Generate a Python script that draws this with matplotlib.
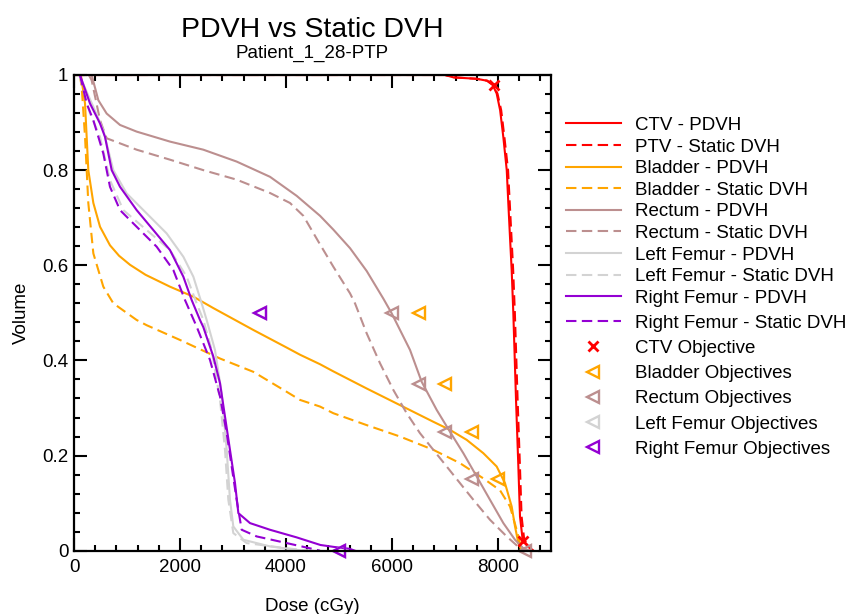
import matplotlib
matplotlib.use('Agg')
import matplotlib.pyplot as plt
from matplotlib.ticker import MultipleLocator, FuncFormatter

plt.rcParams['font.family'] = ['Liberation Sans', 'DejaVu Sans']

# ---------------- data (dose in cGy, fractional volume) ----------------
ctv_pdvh_dose = [0, 7000, 7160, 7600, 7790, 7900, 7975, 8040, 8100, 8165, 8195, 8226,
                 8258, 8289, 8340, 8384, 8415, 8465, 8600, 8660]
ctv_pdvh_vol = [1.0, 1.0, 0.995, 0.992, 0.988, 0.979, 0.961, 0.926, 0.870, 0.800, 0.730,
                0.660, 0.590, 0.500, 0.317, 0.177, 0.072, 0.023, 0.005, 0.0]

ptv_static_dose = [0, 7000, 7170, 7600, 7800, 7910, 7990, 8060, 8120, 8190, 8222, 8254,
                   8286, 8318, 8370, 8414, 8445, 8495, 8610, 8670]
ptv_static_vol = [1.0, 1.0, 0.995, 0.992, 0.988, 0.979, 0.961, 0.926, 0.870, 0.800, 0.730,
                  0.660, 0.590, 0.500, 0.317, 0.177, 0.072, 0.023, 0.005, 0.0]

bladder_pdvh_dose = [130, 208, 270, 365, 491, 679, 850, 1057, 1350, 1811, 2252, 2629, 3384,
                     4013, 4264, 4642, 4893, 5522, 6151, 6780, 7094, 7409, 7723, 7975, 8132,
                     8258, 8321, 8384, 8447]
bladder_pdvh_vol = [1.0, 0.940, 0.800, 0.731, 0.681, 0.642, 0.620, 0.601, 0.580, 0.555, 0.534,
                    0.510, 0.464, 0.427, 0.412, 0.392, 0.377, 0.341, 0.306, 0.271, 0.254,
                    0.233, 0.205, 0.177, 0.142, 0.093, 0.051, 0.016, 0.0]

bladder_static_dose = [110, 145, 208, 270, 365, 553, 742, 1182, 1371, 2000, 2755, 3384, 4013,
                       4264, 4642, 4893, 5522, 6151, 6780, 7283, 7723, 8038, 8226, 8352, 8415,
                       8478]
bladder_static_vol = [1.0, 0.975, 0.870, 0.731, 0.625, 0.555, 0.520, 0.485, 0.474, 0.443,
                      0.404, 0.376, 0.334, 0.317, 0.303, 0.289, 0.264, 0.240, 0.212, 0.184,
                      0.152, 0.127, 0.093, 0.044, 0.016, 0.0]

rectum_pdvh_dose = [333, 459, 616, 868, 1182, 1811, 2440, 3069, 3698, 4201, 4642, 4893, 5208,
                    5522, 5836, 5994, 6340, 6560, 6843, 7094, 7346, 7598, 7849, 8101, 8321,
                    8478, 8604]
rectum_pdvh_vol = [1.0, 0.947, 0.919, 0.895, 0.881, 0.860, 0.843, 0.818, 0.786, 0.746, 0.704,
                   0.675, 0.636, 0.588, 0.530, 0.499, 0.422, 0.355, 0.296, 0.250, 0.205, 0.156,
                   0.107, 0.058, 0.023, 0.005, 0.0]

rectum_static_dose = [280, 333, 491, 616, 1182, 1811, 2440, 3069, 3698, 4075, 4327, 4610, 4893,
                      5208, 5302, 5522, 5774, 6025, 6277, 6528, 6780, 7032, 7283, 7535, 7849,
                      8164, 8415, 8541]
rectum_static_vol = [1.0, 0.989, 0.905, 0.867, 0.843, 0.822, 0.800, 0.780, 0.752, 0.731, 0.704,
                     0.650, 0.597, 0.541, 0.520, 0.457, 0.394, 0.338, 0.289, 0.247, 0.212,
                     0.177, 0.142, 0.107, 0.065, 0.030, 0.005, 0.0]

lfemur_pdvh_dose = [100, 365, 553, 742, 994, 1371, 1748, 2063, 2252, 2409, 2503, 2660, 2786,
                    2881, 2943, 3006, 3195, 3698, 4264, 4500]
lfemur_pdvh_vol = [1.0, 0.933, 0.884, 0.800, 0.751, 0.709, 0.667, 0.618, 0.576, 0.520, 0.485,
                   0.422, 0.331, 0.212, 0.107, 0.051, 0.023, 0.009, 0.001, 0.0]

lfemur_static_dose = [100, 302, 491, 679, 931, 1371, 1811, 2126, 2314, 2440, 2598, 2755, 2849,
                      2912, 3006, 3258, 4013, 4453]
lfemur_static_vol = [1.0, 0.919, 0.870, 0.779, 0.716, 0.674, 0.632, 0.576, 0.520, 0.485, 0.422,
                     0.317, 0.212, 0.107, 0.037, 0.016, 0.005, 0.0]

rfemur_pdvh_dose = [113, 302, 491, 585, 711, 868, 1182, 1497, 1811, 2063, 2220, 2377, 2440,
                    2629, 2755, 2849, 2943, 3038, 3101, 3321, 3698, 4201, 4453, 4650, 4900,
                    5200, 5300]
rfemur_pdvh_vol = [1.0, 0.940, 0.898, 0.870, 0.800, 0.765, 0.716, 0.674, 0.632, 0.576, 0.527,
                   0.485, 0.470, 0.408, 0.352, 0.282, 0.212, 0.142, 0.079, 0.058, 0.044, 0.028,
                   0.019, 0.012, 0.008, 0.004, 0.0]

rfemur_static_dose = [113, 239, 365, 553, 679, 868, 1182, 1560, 1874, 2094, 2314, 2566, 2755,
                      2881, 2975, 3069, 3164, 3447, 4013, 4453, 4642]
rfemur_static_vol = [1.0, 0.940, 0.905, 0.835, 0.765, 0.716, 0.681, 0.639, 0.590, 0.527, 0.471,
                     0.401, 0.324, 0.247, 0.177, 0.107, 0.044, 0.030, 0.016, 0.005, 0.0]

# objectives
ctv_obj_dose = [7920, 8470]
ctv_obj_vol = [0.98, 0.02]
bladder_obj_dose = [6500, 7000, 7500, 8000]
bladder_obj_vol = [0.50, 0.35, 0.25, 0.15]
rectum_obj_dose = [6000, 6500, 7000, 7500, 8500]
rectum_obj_vol = [0.50, 0.35, 0.25, 0.15, 0.0]
lfemur_obj_dose = [3500, 5000]
lfemur_obj_vol = [0.50, 0.0]
rfemur_obj_dose = [3500, 5000]
rfemur_obj_vol = [0.50, 0.0]

title = 'PDVH vs Static DVH'
subtitle = 'Patient_1_28-PTP'
x_label = 'Dose (cGy)'
y_label = 'Volume'

# ---------------- styles ----------------
RED = '#FF0000'
ORANGE = '#FFA500'
BROWN = '#BC8F8F'
GRAY = '#D3D3D3'
VIOLET = '#9400D3'
LW = 1.5
DASH = (0, (5.0, 2.6))
FS = 13.5

curves = [
    ('CTV - PDVH', ctv_pdvh_dose, ctv_pdvh_vol, RED, '-'),
    ('PTV - Static DVH', ptv_static_dose, ptv_static_vol, RED, DASH),
    ('Bladder - PDVH', bladder_pdvh_dose, bladder_pdvh_vol, ORANGE, '-'),
    ('Bladder - Static DVH', bladder_static_dose, bladder_static_vol, ORANGE, DASH),
    ('Rectum - PDVH', rectum_pdvh_dose, rectum_pdvh_vol, BROWN, '-'),
    ('Rectum - Static DVH', rectum_static_dose, rectum_static_vol, BROWN, DASH),
    ('Left Femur - PDVH', lfemur_pdvh_dose, lfemur_pdvh_vol, GRAY, '-'),
    ('Left Femur - Static DVH', lfemur_static_dose, lfemur_static_vol, GRAY, DASH),
    ('Right Femur - PDVH', rfemur_pdvh_dose, rfemur_pdvh_vol, VIOLET, '-'),
    ('Right Femur - Static DVH', rfemur_static_dose, rfemur_static_vol, VIOLET, DASH),
]

objectives = [
    ('CTV Objective', ctv_obj_dose, ctv_obj_vol, RED, 'x', 6.5),
    ('Bladder Objectives', bladder_obj_dose, bladder_obj_vol, ORANGE, '<', 9),
    ('Rectum Objectives', rectum_obj_dose, rectum_obj_vol, BROWN, '<', 9),
    ('Left Femur Objectives', lfemur_obj_dose, lfemur_obj_vol, GRAY, '<', 9),
    ('Right Femur Objectives', rfemur_obj_dose, rfemur_obj_vol, VIOLET, '<', 9),
]

W, H = 851, 614
fig = plt.figure(figsize=(W / 100, H / 100), dpi=100)
ax = fig.add_axes([74 / W, 1 - 550.7 / H, 477 / W, 475.7 / H])

line_handles = []
for label, d, v, c, ls in curves:
    ln, = ax.plot(d, v, color=c, lw=LW, linestyle=ls, label=label)
    line_handles.append(ln)

obj_handles = []
for label, d, v, c, m, ms in objectives:
    if m == 'x':
        h, = ax.plot(d, v, linestyle='none', marker=m, ms=ms, mew=2.0, color=c,
                     clip_on=False, label=label, zorder=4)
    else:
        h, = ax.plot(d, v, linestyle='none', marker=m, ms=ms, mew=1.7, mfc='none',
                     mec=c, clip_on=False, label=label, zorder=4)
    obj_handles.append(h)

ax.set_xlim(0, 9000)
ax.set_ylim(0, 1)
ax.xaxis.set_major_locator(MultipleLocator(2000))
ax.xaxis.set_minor_locator(MultipleLocator(400))
ax.yaxis.set_major_locator(MultipleLocator(0.2))
ax.yaxis.set_minor_locator(MultipleLocator(0.04))
fmt = FuncFormatter(lambda val, pos: f'{val:g}')
ax.xaxis.set_major_formatter(fmt)
ax.yaxis.set_major_formatter(fmt)
ax.tick_params(which='both', direction='in', top=True, right=True, width=1.5,
               labelsize=FS, colors='black')
ax.tick_params(which='major', length=9.5)
ax.tick_params(which='minor', length=4.5)
ax.tick_params(axis='x', which='major', pad=6)
ax.tick_params(axis='y', which='major', pad=4)
for sp in ax.spines.values():
    sp.set_linewidth(1.6)
    sp.set_zorder(5)

ax.set_xlabel(x_label, fontsize=FS, labelpad=15.5)
ax.set_ylabel(y_label, fontsize=FS, labelpad=9)

cx = (74 + 551) / 2 / W
fig.text(cx, 1 - 36.7 / H, title, ha='center', va='baseline', fontsize=20.5)
fig.text(cx, 1 - 58.3 / H, subtitle, ha='center', va='baseline', fontsize=13.5)

leg1 = fig.legend(handles=line_handles[:9], loc='upper left',
                  bbox_to_anchor=(566 / W, 1 - 116.8 / H), frameon=False, fontsize=FS,
                  handlelength=2.92, handletextpad=0.76, labelspacing=0.24,
                  borderpad=0, borderaxespad=0)
leg2 = fig.legend(handles=[line_handles[9]] + obj_handles, loc='upper left',
                  bbox_to_anchor=(566 / W, 1 - 314.7 / H), frameon=False, fontsize=FS,
                  handlelength=2.92, handletextpad=0.76, labelspacing=0.43,
                  borderpad=0, borderaxespad=0, numpoints=1)

fig.savefig('out.png', dpi=100)
